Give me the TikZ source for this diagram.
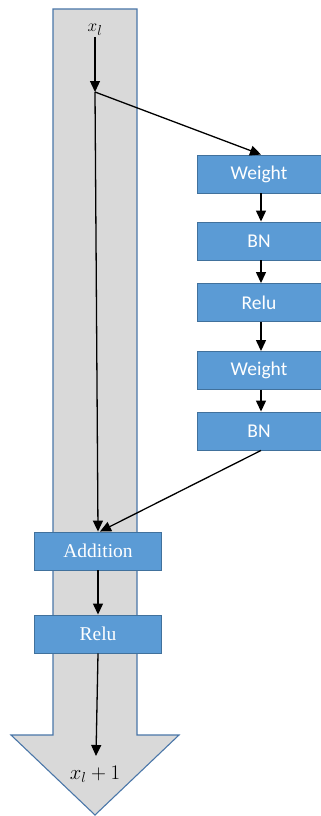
\documentclass[tikz,border=0pt]{standalone}
\usepackage{fontspec}
\setmainfont{Liberation Serif}
\newfontfamily\boxsans{Carlito}
\usetikzlibrary{arrows.meta}
\definecolor{shaftgray}{HTML}{D9D9D9}
\definecolor{shaftline}{HTML}{4A76A8}
\definecolor{boxfill}{HTML}{5B9BD5}
\definecolor{boxline}{HTML}{41719C}
\begin{document}
\begin{tikzpicture}[x=1pt,y=-1pt,
  rbox/.style={draw=boxline,line width=0.9pt,fill=boxfill,text=white,
    minimum width=124pt,minimum height=38pt,inner sep=0pt,
    font=\boxsans\fontsize{19.5}{22}\selectfont},
  lbox/.style={draw=boxline,line width=0.9pt,fill=boxfill,text=white,
    minimum width=127pt,minimum height=38pt,inner sep=0pt,
    font=\fontsize{19.5}{22}\selectfont},
  arr/.style={line width=1.3pt,-{Triangle[length=11pt,width=10pt]}}]
\useasboundingbox (0,0) rectangle (321,816);
% wide gray down-arrow behind the main path
\draw[shaftline,line width=1.1pt,fill=shaftgray]
  (53,9) -- (137,9) -- (137,735) -- (179,735) -- (95,815)
  -- (11,735) -- (53,735) -- cycle;
% labels
\node[inner sep=1pt,font=\fontsize{19}{22}\selectfont] (xin) at (95,30) {$x_l$};
\node[inner sep=1pt,font=\fontsize{21}{24}\selectfont] (xout) at (95,774) {$x_l+1$};
\coordinate (split) at (95,92);
\coordinate (out) at (96,756);
% residual branch
\node[rbox] (w1) at (259,174) {Weight};
\node[rbox] (bn1) at (259,241) {BN};
\node[rbox] (re1) at (259,302.5) {Relu};
\node[rbox] (w2) at (259,370.5) {Weight};
\node[rbox] (bn2) at (259,431) {BN};
% main path
\node[lbox] (add) at (98,551) {Addition};
\node[lbox] (re2) at (98,634) {Relu};
% connectors
\draw[arr] (xin) -- (split);
\draw[arr] (split) -- ([xshift=2pt]w1.north);
\draw[arr] (split) -- (add.north);
\draw[arr] ([xshift=2pt]w1.south) -- ([xshift=2pt]bn1.north);
\draw[arr] ([xshift=2pt]bn1.south) -- ([xshift=2pt]re1.north);
\draw[arr] ([xshift=2pt]re1.south) -- ([xshift=2pt]w2.north);
\draw[arr] ([xshift=2pt]w2.south) -- ([xshift=2pt]bn2.north);
\draw[arr] ([xshift=2pt]bn2.south) -- ([xshift=2pt]add.north);
\draw[arr] (add.south) -- (re2.north);
\draw[arr] (re2.south) -- (out);
\end{tikzpicture}
\end{document}
